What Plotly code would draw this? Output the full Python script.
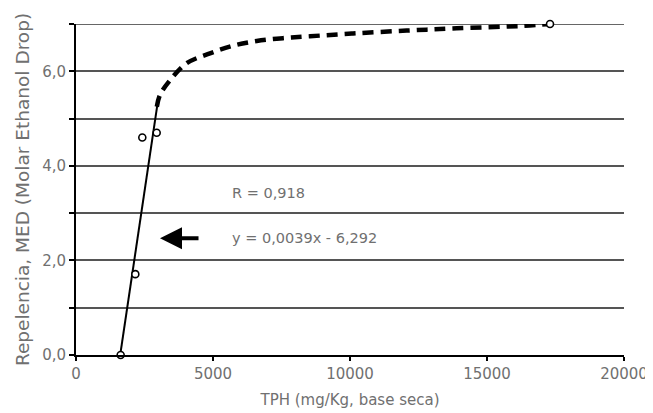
import plotly.graph_objects as go

# Observed data (TPH mg/Kg, MED)
tph = [1630, 2165, 2420, 2945, 17300]
med = [0.0, 1.71, 4.60, 4.70, 7.0]

# Linear fit segment (y = 0.0039x - 6.292)
fit_x = [1613, 2972]
fit_y = [0.0, 5.3]

# Dashed saturation curve
curve_x = [2950, 3066, 3431, 4040, 4890, 5730, 6594, 7555, 8540, 10110, 12070, 13895, 16315, 17300]
curve_y = [5.25, 5.50, 5.81, 6.17, 6.38, 6.54, 6.64, 6.70, 6.74, 6.80, 6.86, 6.91, 6.96, 7.0]

x_ticks = [0, 5000, 10000, 15000, 20000]
x_tick_text = ["0", "5000", "10000", "15000", "20000"]
y_ticks = [0, 1, 2, 3, 4, 5, 6, 7]
y_tick_text = ["0,0", "", "2,0", "", "4,0", "", "6,0", ""]

r_text = "R = 0,918"
eq_text = "y = 0,0039x - 6,292"
arrow_head = (3066, 2.47)
arrow_tail = (4526, 2.47)
text_pos_x = 5620
r_text_y = 3.42
eq_text_y = 2.47

FONT = "DejaVu Sans"
GRAY = "#707070"

fig = go.Figure()
fig.add_trace(go.Scatter(x=curve_x, y=curve_y, mode="lines",
                         line=dict(color="black", width=4.5, dash="11px,7px", shape="spline"),
                         showlegend=False, hoverinfo="skip"))
fig.add_trace(go.Scatter(x=fit_x, y=fit_y, mode="lines",
                         line=dict(color="black", width=2),
                         showlegend=False, hoverinfo="skip"))
fig.add_trace(go.Scatter(x=tph, y=med, mode="markers",
                         marker=dict(symbol="circle", size=7, color="white",
                                     line=dict(color="black", width=1.6)),
                         showlegend=False, cliponaxis=False))

# top gridline at the range edge
fig.add_shape(type="line", xref="paper", yref="y", x0=0, x1=1, y0=y_ticks[-1], y1=y_ticks[-1],
              line=dict(color="#666666", width=1.8), layer="below")

fig.add_annotation(x=arrow_head[0], y=arrow_head[1], ax=arrow_tail[0], ay=arrow_tail[1],
                   xref="x", yref="y", axref="x", ayref="y", text="",
                   showarrow=True, arrowhead=2, arrowsize=1.1, arrowwidth=4, arrowcolor="black")
fig.add_annotation(x=text_pos_x, y=r_text_y, xref="x", yref="y", text=r_text,
                   showarrow=False, xanchor="left", yanchor="middle",
                   font=dict(family=FONT, size=14.5, color=GRAY))
fig.add_annotation(x=text_pos_x, y=eq_text_y, xref="x", yref="y", text=eq_text,
                   showarrow=False, xanchor="left", yanchor="middle",
                   font=dict(family=FONT, size=14.5, color=GRAY))

fig.update_layout(
    width=645, height=405,
    margin=dict(l=68, r=29, t=16, b=58),
    paper_bgcolor="white", plot_bgcolor="white",
    font=dict(family=FONT, size=15, color=GRAY),
    xaxis=dict(range=[0, 20000], tickvals=x_ticks, ticktext=x_tick_text, automargin=False,
               showgrid=False, zeroline=False, showline=True, linecolor="black", linewidth=2,
               ticks="outside", ticklen=4, tickwidth=2, tickcolor="black",
               tickfont=dict(family=FONT, size=15, color=GRAY),
               title=dict(text="TPH (mg/Kg, base seca)", standoff=12,
                          font=dict(family=FONT, size=15, color=GRAY))),
    yaxis=dict(range=[0, 7], tickvals=y_ticks, ticktext=y_tick_text, automargin=False,
               showgrid=True, gridcolor="#555555", gridwidth=1.8,
               zeroline=False, showline=True, linecolor="black", linewidth=2,
               ticks="outside", ticklen=5, tickwidth=2, tickcolor="black",
               tickfont=dict(family=FONT, size=15, color=GRAY),
               title=dict(text="Repelencia, MED (Molar Ethanol Drop)", standoff=8,
                          font=dict(family=FONT, size=18.5, color=GRAY))),
)

fig.write_html("out.html")
